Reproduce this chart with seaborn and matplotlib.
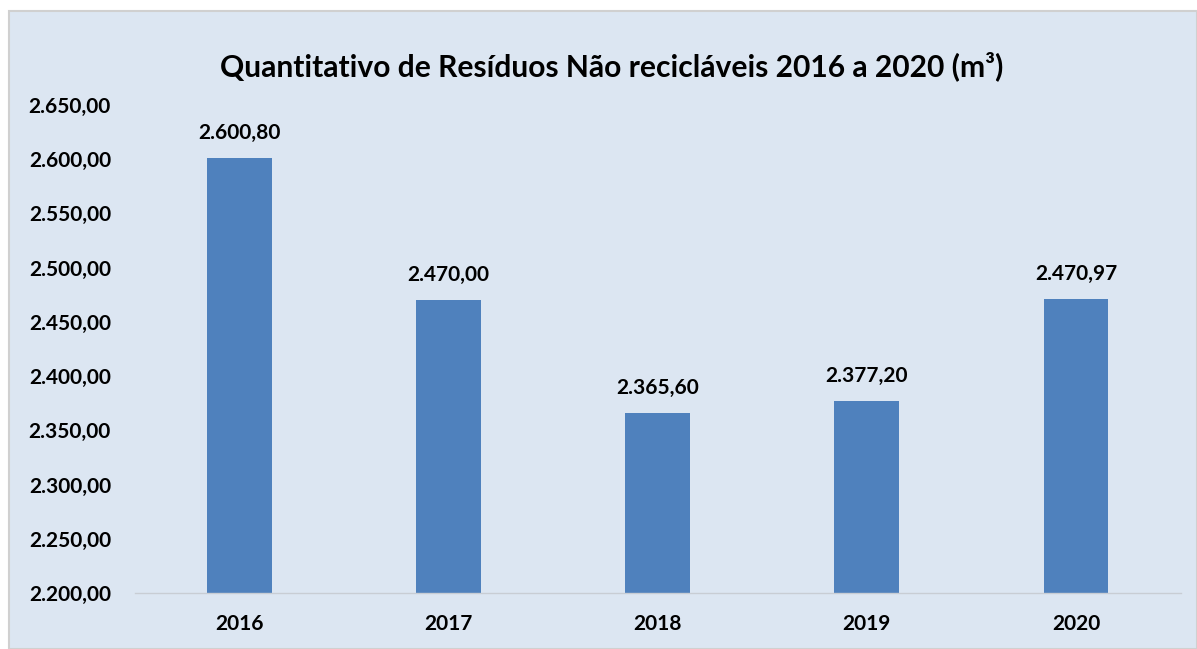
import matplotlib
matplotlib.use("Agg")
import matplotlib.pyplot as plt
from matplotlib.patches import Rectangle
from matplotlib.ticker import FuncFormatter
import seaborn as sns
import pandas as pd

anos = ["2016", "2017", "2018", "2019", "2020"]
volumes = [2600.80, 2470.00, 2365.60, 2377.20, 2470.97]
y_ticks = [2200, 2250, 2300, 2350, 2400, 2450, 2500, 2550, 2600, 2650]
titulo = "Quantitativo de Resíduos Não recicláveis 2016 a 2020 (m³)"

BG = "#DCE6F2"
BAR = "#4F81BD"


def br(v):
    s = f"{v:,.2f}"
    return s.replace(",", "X").replace(".", ",").replace("X", ".")


sns.set_theme(style="white")
plt.rcParams["font.family"] = ["Lato", "DejaVu Sans"]

W, H = 1197, 649
fig = plt.figure(figsize=(W / 100, H / 100), dpi=100)
fig.patch.set_facecolor("white")
fig.patches.append(Rectangle((9 / W, 0), 1 - 9 / W, 1 - 11 / H,
                             transform=fig.transFigure, facecolor=BG,
                             edgecolor="#D0D0D0", linewidth=1.5, zorder=-10))

ax = fig.add_axes([134.5 / W, 1 - 593 / H, (1180.6 - 134.5) / W, (593 - 105) / H])
ax.set_zorder(5)
ax.set_facecolor("none")

df = pd.DataFrame({"ano": anos, "volume": volumes})
sns.barplot(data=df, x="ano", y="volume", color=BAR, saturation=1,
            width=0.31, linewidth=0, ax=ax)

ax.set_ylim(2200, 2650)
ax.set_yticks(y_ticks)
ax.yaxis.set_major_formatter(FuncFormatter(lambda v, p: br(v)))
ax.set_xlabel("")
ax.set_ylabel("")
for s in ["top", "right", "left"]:
    ax.spines[s].set_visible(False)
ax.spines["bottom"].set_color("#C8CDD4")
ax.spines["bottom"].set_linewidth(1)
ax.tick_params(axis="both", length=0, labelsize=15, colors="black")
ax.tick_params(axis="y", pad=17)
ax.tick_params(axis="x", pad=15)
for lbl in ax.get_xticklabels() + ax.get_yticklabels():
    lbl.set_fontweight("bold")

for patch, v in zip(ax.patches, volumes):
    ax.annotate(br(v), (patch.get_x() + patch.get_width() / 2, v),
                xytext=(0, 11), textcoords="offset points",
                ha="center", va="bottom", fontsize=15, fontweight="bold",
                color="black")

fig.text(612 / W, 1 - 66 / H, titulo, ha="center", va="center",
         fontsize=21.6, fontweight="bold", color="black", zorder=6)

fig.savefig("out.png", dpi=100, facecolor=fig.get_facecolor())
